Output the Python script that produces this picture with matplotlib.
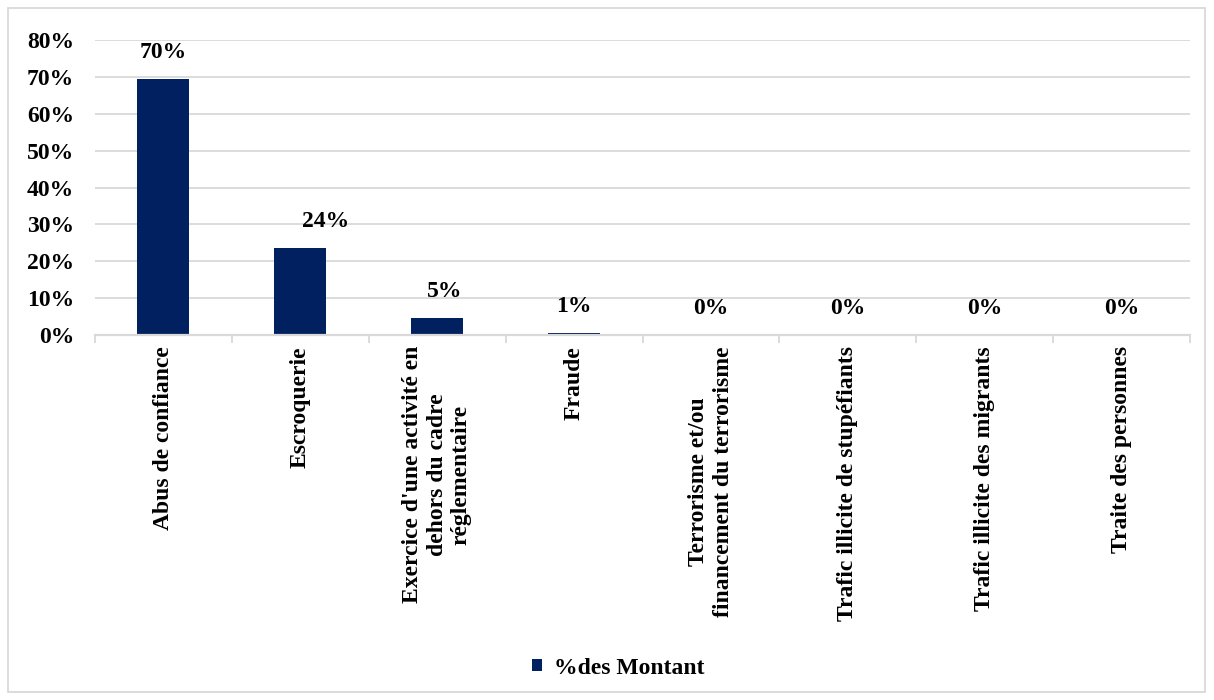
import numpy as np
import matplotlib.pyplot as plt
from matplotlib.patches import Rectangle
from matplotlib.ticker import PercentFormatter

plt.rcParams['font.family'] = ['Liberation Serif', 'DejaVu Serif']
plt.rcParams['font.weight'] = 'bold'

categories = ["Abus de confiance", "Escroquerie",
              "Exercice d'une activité en\ndehors du cadre\nréglementaire",
              "Fraude", "Terrorisme et/ou\nfinancement du terrorisme",
              "Trafic illicite de stupéfiants", "Trafic illicite des migrants",
              "Traite des personnes"]
montant = [0.695, 0.235, 0.046, 0.0052, 0.001, 0.0, 0.0, 0.0]
series_name = "%des Montant"

navy = '#002060'
grid = '#d9d9d9'
fs = 17

fig = plt.figure(figsize=(12.14, 7), dpi=100)
ax = fig.add_axes([95 / 1214, 1 - 335 / 700, 1095 / 1214, 295 / 700])

x = np.arange(len(categories))
bars = ax.bar(x, montant, width=0.38, color=navy, label=series_name, zorder=3)

# label nudges as in the original (px)
dx = [0, 25, 8, 0, 0, 0, 0, 0]
for i, v in enumerate(montant):
    ax.annotate(f"{v:.0%}", (x[i], v), xytext=(dx[i] * 0.72, 19),
                textcoords='offset points', ha='center', va='center',
                fontsize=fs, fontweight='bold')

ax.set_xlim(-0.5, len(categories) - 0.5)
ax.set_ylim(0, 0.8)
ax.set_yticks(np.arange(0, 0.81, 0.1))
ax.yaxis.set_major_formatter(PercentFormatter(1.0, decimals=0))
ax.grid(axis='y', color=grid, linewidth=1.3, zorder=0)
ax.tick_params(axis='y', length=0, pad=15, labelsize=fs)

ax.set_xticks(x)
ax.set_xticklabels(categories, rotation=90, fontsize=fs, ha='center', va='top',
                   multialignment='center')
ax.set_xticks(np.arange(-0.5, len(categories)), minor=True)
ax.tick_params(axis='x', which='major', length=0, pad=8)
ax.tick_params(axis='x', which='minor', length=6, color=grid, width=1.3)

for s in ['top', 'right', 'left']:
    ax.spines[s].set_visible(False)
ax.spines['bottom'].set_color(grid)
ax.spines['bottom'].set_linewidth(1.6)
ax.spines['bottom'].set_zorder(4)

fig.legend(handles=[bars], labels=[series_name], loc='center',
           bbox_to_anchor=(618 / 1214, 1 - 668 / 700), frameon=False,
           fontsize=fs, handlelength=0.45, handleheight=0.45, handletextpad=0.5)

fig.patches.append(Rectangle((8 / 1214, 8 / 700), 1197 / 1214, 684 / 700,
                             transform=fig.transFigure, fill=False,
                             edgecolor='#d9d9d9', linewidth=1.3))

fig.savefig('out.png', dpi=100)
